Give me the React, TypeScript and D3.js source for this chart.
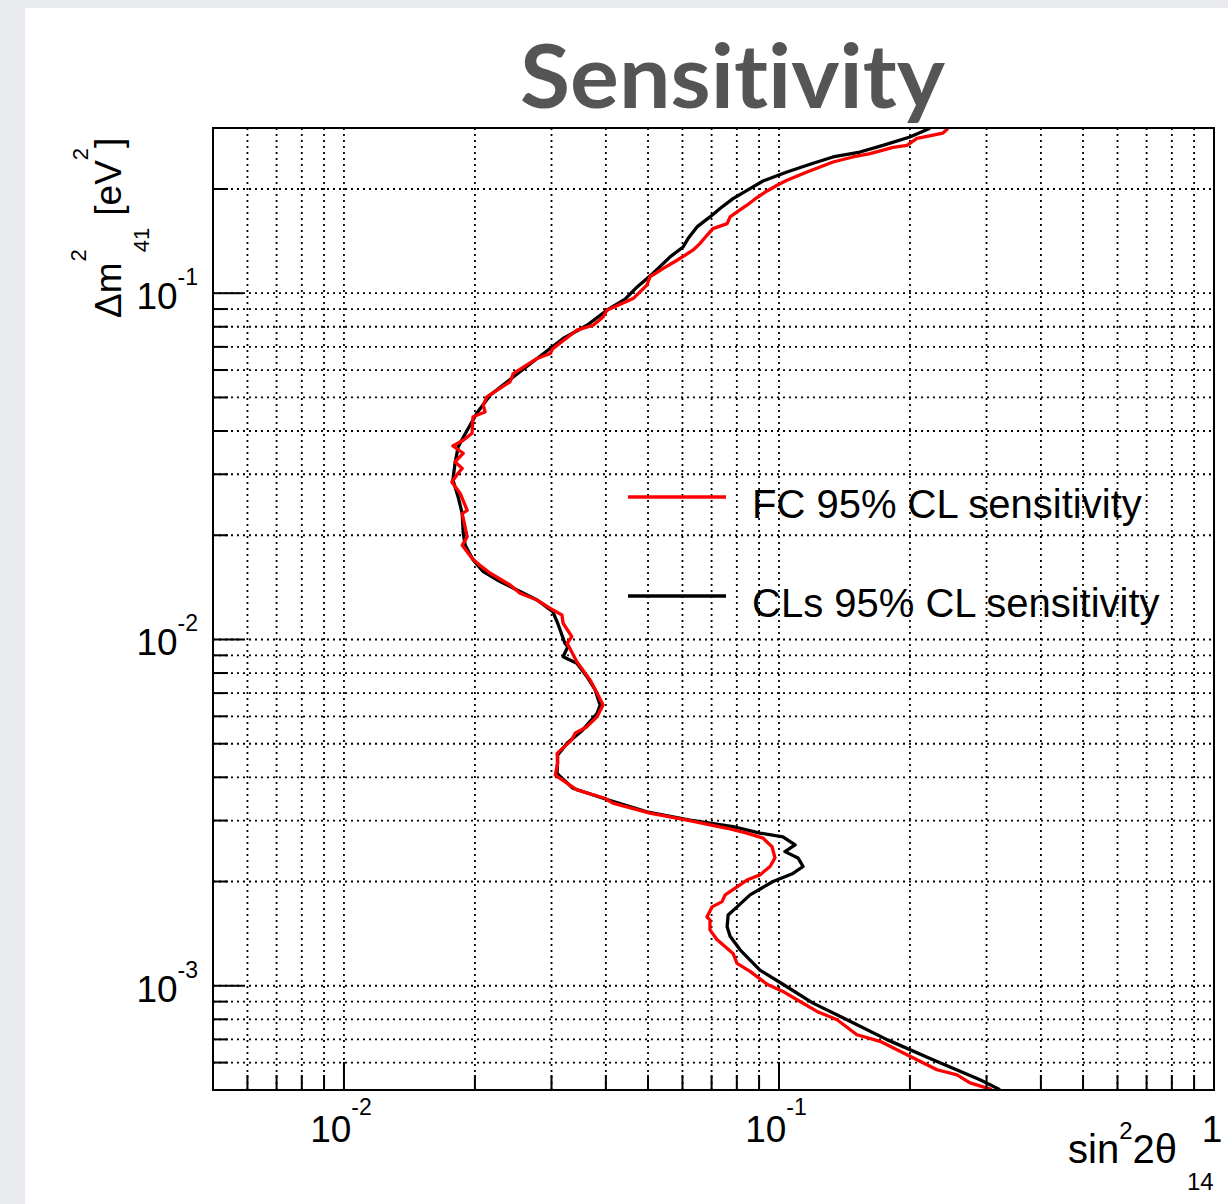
import React from "react";
import * as d3 from "d3";

// ---------- data ----------
// CLs 95% CL sensitivity (black): [sin^2 2theta_14, dm^2_41 (eV^2)]
const clsCurve: [number, number][] = [
  [0.2224, 0.2994], [0.2, 0.2826], [0.1734, 0.2673], [0.1535, 0.2557], [0.1331, 0.2474],
  [0.1179, 0.2357], [0.1043, 0.2239], [0.0919, 0.2109], [0.0858, 0.2005], [0.0784, 0.1876],
  [0.0732, 0.1756], [0.0694, 0.1661], [0.0648, 0.1554], [0.0618, 0.1438], [0.0602, 0.136],
  [0.0562, 0.1273], [0.0513, 0.114], [0.0472, 0.1043], [0.0443, 0.0961], [0.0402, 0.0893],
  [0.0362, 0.0808], [0.0319, 0.074], [0.0278, 0.0648], [0.0245, 0.0573], [0.0217, 0.0508],
  [0.0202, 0.045], [0.0192, 0.0402], [0.0183, 0.036], [0.018, 0.0322], [0.0178, 0.0289],
  [0.0183, 0.0258], [0.0187, 0.0231], [0.0188, 0.0203], [0.019, 0.0187], [0.0198, 0.017],
  [0.0209, 0.0157], [0.0225, 0.01486], [0.025, 0.0139], [0.0278, 0.013], [0.0302, 0.01203],
  [0.031, 0.01114], [0.0322, 0.00975], [0.0327, 0.00953], [0.0319, 0.00892], [0.0343, 0.00854],
  [0.0362, 0.00781], [0.0378, 0.00715], [0.0388, 0.00647], [0.0382, 0.00612], [0.0354, 0.00548],
  [0.0326, 0.00502], [0.031, 0.00464], [0.0309, 0.00411], [0.0314, 0.00402], [0.0336, 0.00372],
  [0.0394, 0.00348], [0.0497, 0.00318], [0.0624, 0.00301], [0.0784, 0.00288], [0.0904, 0.00276],
  [0.1021, 0.00269], [0.1089, 0.00255], [0.1032, 0.00244], [0.1106, 0.00234], [0.1136, 0.00221],
  [0.1077, 0.00211], [0.0969, 0.002], [0.0858, 0.00183], [0.0801, 0.00169], [0.0764, 0.0016],
  [0.076, 0.00148], [0.0772, 0.00139], [0.0814, 0.00127], [0.0904, 0.00111], [0.1021, 0.00101],
  [0.1197, 0.000891], [0.1433, 0.000798], [0.1771, 0.000699], [0.2259, 0.000611], [0.2898, 0.000535],
  [0.3221, 0.000501],
];

// FC 95% CL sensitivity (red)
const fcCurve: [number, number][] = [
  [0.2446, 0.299], [0.2382, 0.2901], [0.2076, 0.2801], [0.1969, 0.2673], [0.1829, 0.2638],
  [0.1619, 0.253], [0.1479, 0.2474], [0.1331, 0.2393], [0.1243, 0.2315], [0.116, 0.2239],
  [0.1043, 0.2119], [0.099, 0.205], [0.0939, 0.1974], [0.089, 0.1889], [0.0844, 0.1795],
  [0.0801, 0.1717], [0.0772, 0.1661], [0.076, 0.1589], [0.0705, 0.1537], [0.0683, 0.147],
  [0.0658, 0.1391], [0.0634, 0.1331], [0.0583, 0.1245], [0.0541, 0.1178], [0.0505, 0.1114],
  [0.0497, 0.1055], [0.0462, 0.0965], [0.0402, 0.0893], [0.0394, 0.0854], [0.0374, 0.0808],
  [0.0343, 0.0782], [0.0302, 0.0692], [0.0298, 0.067], [0.0278, 0.0648], [0.0245, 0.0586],
  [0.0241, 0.0555], [0.0225, 0.0525], [0.0213, 0.0502], [0.0209, 0.0475], [0.0211, 0.0454],
  [0.0198, 0.044], [0.0197, 0.0394], [0.0188, 0.0376], [0.0178, 0.0362], [0.0188, 0.0345],
  [0.018, 0.0326], [0.0187, 0.0312], [0.0183, 0.0302], [0.0177, 0.0285], [0.0185, 0.0264],
  [0.0192, 0.0236], [0.0187, 0.0231], [0.0192, 0.0198], [0.0187, 0.0187], [0.0197, 0.01715],
  [0.0205, 0.0164], [0.0217, 0.01553], [0.0241, 0.01437], [0.0254, 0.0136], [0.0278, 0.013],
  [0.0298, 0.0123], [0.0317, 0.01177], [0.0319, 0.01114], [0.0334, 0.01019], [0.0326, 0.00975],
  [0.0343, 0.00863], [0.0368, 0.00764], [0.0382, 0.00699], [0.0394, 0.00647], [0.0382, 0.00599],
  [0.0362, 0.0056], [0.034, 0.00536], [0.0334, 0.00513], [0.0309, 0.00469], [0.031, 0.00439],
  [0.0306, 0.00406], [0.0343, 0.00368], [0.0398, 0.00348], [0.0415, 0.00337], [0.0505, 0.00315],
  [0.0615, 0.00301], [0.076, 0.00285], [0.0844, 0.00276], [0.0919, 0.00267], [0.0964, 0.00252],
  [0.0979, 0.00234], [0.0954, 0.00221], [0.0904, 0.00209], [0.0844, 0.00202], [0.0801, 0.00193],
  [0.0752, 0.00183], [0.074, 0.00175], [0.0702, 0.00169], [0.0683, 0.00158], [0.0694, 0.00155],
  [0.0694, 0.00145], [0.072, 0.00136], [0.0784, 0.00124], [0.0801, 0.00116], [0.0858, 0.0011],
  [0.0939, 0.00101], [0.1021, 0.000963], [0.11, 0.000911], [0.1223, 0.000843], [0.136, 0.000798],
  [0.1511, 0.000722], [0.1707, 0.000691], [0.1969, 0.000632], [0.2308, 0.000572], [0.2566, 0.000553],
  [0.2749, 0.000524], [0.3088, 0.000501],
];

const xDomain: [number, number] = [0.005, 1];
const yDomain: [number, number] = [0.0005, 0.3];
const xMajorTicks = [0.01, 0.1, 1];
const xMajorLabels = [["10", "-2"], ["10", "-1"], ["1", ""]];
const yMajorTicks = [0.001, 0.01, 0.1];
const yMajorLabels = [["10", "-3"], ["10", "-2"], ["10", "-1"]];
const legendLabels = ["FC 95% CL sensitivity", "CLs 95% CL sensitivity"];
const legendColors = ["#ff0000", "#000000"];
const titleText = "Sensitivity";

const FONT = "'Liberation Sans', Arial, Helvetica, sans-serif";

function minorValues(domain: [number, number]) {
  const out: number[] = [];
  for (let e = -4; e <= 0; e++) {
    for (let k = 1; k <= 9; k++) {
      const v = +(k * Math.pow(10, e)).toPrecision(6);
      if (v > domain[0] * 1.0001 && v < domain[1] * 0.9999) out.push(v);
    }
  }
  return out;
}

export default function App() {
  const L = 213, R = 1214, T = 128, B = 1090;
  const x = d3.scaleLog().domain(xDomain).range([L, R]);
  const y = d3.scaleLog().domain(yDomain).range([B, T]);

  const xGrid = minorValues(xDomain);
  const yGrid = minorValues(yDomain);
  const isMajor = (v: number) => Math.abs(Math.log10(v) - Math.round(Math.log10(v))) < 1e-6;

  const line = d3
    .line<[number, number]>()
    .x((d) => x(d[0]))
    .y((d) => y(d[1]));

  const dash = "2 4";

  return (
    <svg
      width={1228}
      height={1204}
      style={{ position: "absolute", left: 0, top: 0, display: "block" }}
    >
      <defs>
        <clipPath id="frameClip">
          <rect x={L} y={T} width={R - L} height={B - T} />
        </clipPath>
      </defs>
      <rect x={0} y={0} width={1228} height={1204} fill="#e9eaee" />
      <rect x={25} y={8} width={1203} height={1196} fill="#ffffff" />

      {/* grid */}
      <g stroke="#000" strokeWidth={1.8} strokeDasharray={dash}>
        {xGrid.map((v, i) => (
          <line key={"gx" + i} x1={x(v)} x2={x(v)} y1={T} y2={B} />
        ))}
        {yGrid.map((v, i) => (
          <line key={"gy" + i} x1={L} x2={R} y1={y(v)} y2={y(v)} />
        ))}
      </g>

      {/* curves */}
      <g clipPath="url(#frameClip)" fill="none" strokeWidth={3.3} strokeLinejoin="round">
        <path d={line(clsCurve) || ""} stroke="#000" />
        <path d={line(fcCurve) || ""} stroke="#ff0000" />
      </g>

      {/* frame */}
      <rect x={L} y={T} width={R - L} height={B - T} fill="none" stroke="#000" strokeWidth={2} />

      {/* ticks */}
      <g stroke="#000" strokeWidth={2}>
        {xGrid.map((v, i) => (
          <line key={"tx" + i} x1={x(v)} x2={x(v)} y1={B} y2={B - (isMajor(v) ? 28 : 15)} />
        ))}
        {yGrid.map((v, i) => (
          <line key={"ty" + i} x1={L} x2={L + (isMajor(v) ? 30 : 15)} y1={y(v)} y2={y(v)} />
        ))}
      </g>

      {/* y tick labels */}
      {yMajorTicks.map((v, i) => (
        <text key={"yl" + i} x={198} y={y(v) + 16} textAnchor="end" fontFamily={FONT} fontSize={37} fill="#000">
          <tspan>{yMajorLabels[i][0]}</tspan>
          <tspan dy={-24} fontSize={23}>{yMajorLabels[i][1]}</tspan>
        </text>
      ))}

      {/* x tick labels */}
      {xMajorTicks.map((v, i) =>
        xMajorLabels[i][1] ? (
          <text key={"xl" + i} x={x(v) - 3} y={1142} textAnchor="middle" fontFamily={FONT} fontSize={37} fill="#000">
            <tspan>{xMajorLabels[i][0]}</tspan>
            <tspan dy={-27} fontSize={23}>{xMajorLabels[i][1]}</tspan>
          </text>
        ) : (
          <text key={"xl" + i} x={x(v) - 2} y={1142} textAnchor="middle" fontFamily={FONT} fontSize={37} fill="#000">
            {xMajorLabels[i][0]}
          </text>
        )
      )}

      {/* x axis title */}
      <text x={1068} y={1163} fontFamily={FONT} fontSize={40} fill="#000">
        <tspan>sin</tspan>
        <tspan dy={-24} fontSize={24}>2</tspan>
        <tspan dy={24}>2θ</tspan>
      </text>
      <text x={1187} y={1190} fontFamily={FONT} fontSize={24} fill="#000">14</text>

      {/* y axis title */}
      <g transform="translate(121,318) rotate(-90)">
        <text x={0} y={0} fontFamily={FONT} fontSize={37} fill="#000">
          <tspan>Δm</tspan>
          <tspan dy={-35} dx={1} fontSize={22}>2</tspan>
          <tspan dy={63} dx={-3} fontSize={22}>41</tspan>
          <tspan dy={-28} dx={12}>[eV</tspan>
          <tspan dy={-33} fontSize={22}>2</tspan>
          <tspan dy={33}>]</tspan>
        </text>
      </g>

      {/* legend */}
      {legendLabels.map((lab, i) => (
        <g key={"lg" + i}>
          <line x1={628} x2={726} y1={497 + i * 99} y2={497 + i * 99} stroke={legendColors[i]} strokeWidth={3.3} />
          <text x={752} y={518 + i * 99} fontFamily={FONT} fontSize={40} fill="#000">
            {lab}
          </text>
        </g>
      ))}

      {/* title */}
      <text
        x={520}
        y={108}
        fontFamily="Lato, 'Open Sans', sans-serif"
        fontWeight={700}
        fontSize={88}
        fill="#555555"
        textLength={425}
        lengthAdjust="spacingAndGlyphs"
        style={{ fontVariantLigatures: "none", fontFeatureSettings: "'liga' 0, 'clig' 0" }}
      >
        {titleText}
      </text>
    </svg>
  );
}
